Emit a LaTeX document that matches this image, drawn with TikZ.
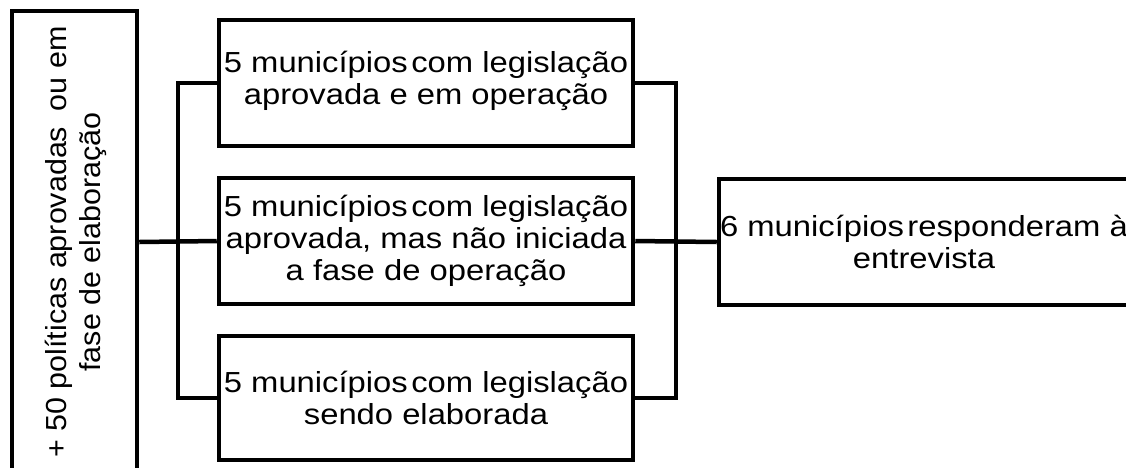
\documentclass[tikz,border=0pt]{standalone}
\usepackage{fontspec}
\setmainfont{Liberation Sans}[FakeStretch=1.13]
\newfontfamily\rotfont{Liberation Sans}[FakeStretch=1.05]
\begin{document}
\begin{tikzpicture}[x=1pt,y=-1pt,
  boxstyle/.style={draw=black, line width=4.5pt, rectangle, inner sep=0pt, align=center,
    font=\fontsize{29}{32}\selectfont},
  link/.style={draw=black, line width=4.5pt, line join=miter}]
\useasboundingbox (0,0) rectangle (1126,467);
\clip (0,0) rectangle (1126,467);
% left tall box
\node[boxstyle, minimum width=125pt, minimum height=462pt] (L) at (74.5,242) {};
\node[font=\rotfont\fontsize{29}{34}\selectfont, rotate=90, align=center, inner sep=0pt] (Ltext) at (76,242)
  {+ 50 políticas aprovadas\hspace{0.25em} ou em\\fase de elaboração};
% middle boxes
\node[boxstyle, minimum width=414pt, minimum height=126pt] (b1) at (426,83)
  {5 municípios\hspace{0.12em}com legislação\\aprovada e em operação\\[-21pt]};
\node[boxstyle, minimum width=414pt, minimum height=126pt] (b2) at (426,241)
  {5 municípios\hspace{0.12em}com legislação\\aprovada, mas não iniciada\\a fase de operação};
\node[boxstyle, minimum width=414pt, minimum height=124pt] (b3) at (426,398)
  {5 municípios\hspace{0.12em}com legislação\\sendo elaborada};
% right box
\node[boxstyle, minimum width=410pt, minimum height=126pt] (b4) at (924,242)
  {6 municípios\hspace{0.12em}responderam à\\entrevista};
% connectors
\coordinate (busL) at (178,242);
\coordinate (busR) at (676,242);
\draw[link] (L.east) -- (b2.west);
\draw[link] (b1.west) -| (busL) |- (b3.west);
\draw[link] (b1.east) -| (busR) |- (b3.east);
\draw[link] (b2.east) -- (b4.west);
\end{tikzpicture}
\end{document}
